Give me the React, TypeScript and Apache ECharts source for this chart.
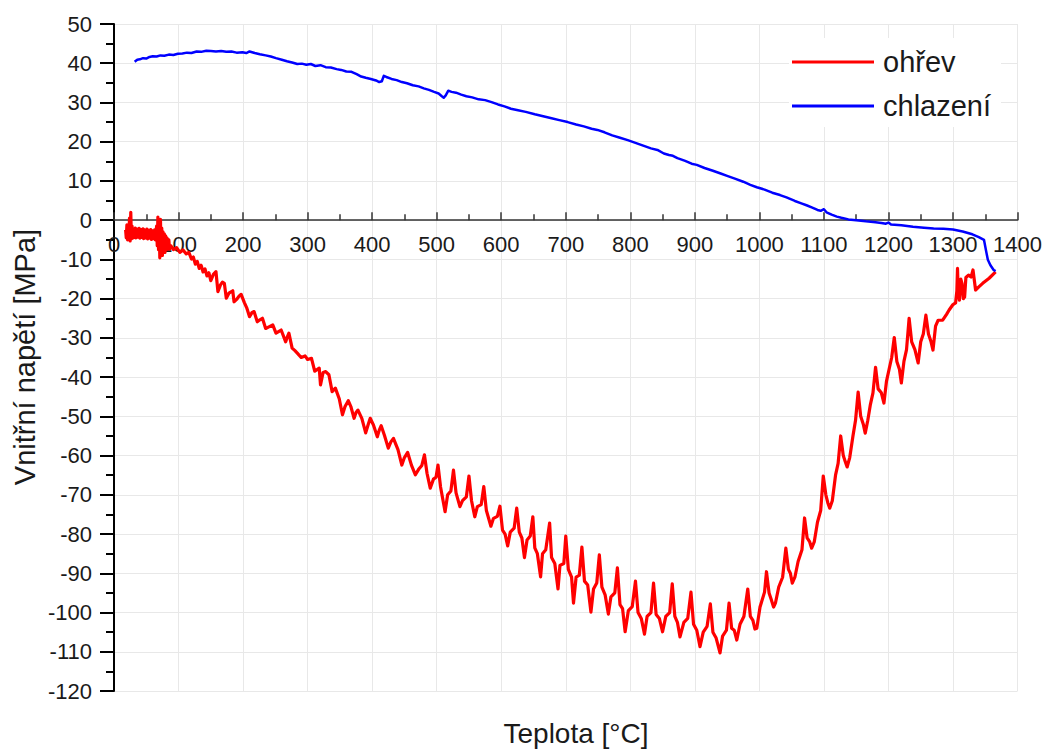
import React, { useEffect, useRef } from "react";
import * as echarts from "echarts";

// Axis ticks
const xTicks = { min: 0, max: 1400, step: 100 };
const yTicks = { min: -120, max: 50, step: 10 };

const seriesNames = ["ohřev", "chlazení"];
const xTitle = "Teplota [°C]";
const yTitle = "Vnitřní napětí [MPa]";

// Heating (ohřev) – noisy start cluster [T, sigma]
const heatingStart: number[][] = [
  [18, -2.5], [19, -4.5], [20, -1.2], [21, -5.0], [22, -2.0], [23, -4.6], [24, 0.5], [25, -5.3], [26, 2.0], [27, -4.8],
  [28, -1.5], [29, -4.6], [30, -2.2], [31, -4.4], [33, -2.0], [34, -4.5], [36, -2.3], [37, -4.3], [39, -2.1], [40, -4.6],
  [42, -2.4], [43, -4.4], [45, -2.2], [46, -4.7], [48, -2.5], [49, -4.5], [51, -2.3], [52, -4.8], [54, -2.6], [55, -4.6],
  [57, -2.4], [58, -4.9], [60, -2.7], [61, -4.7], [63, -2.5], [64, -5.0], [66, -1.5], [67, -6.5], [68, 0.8], [69, -7.5],
  [70, -1.0], [71, -9.6], [72, 0.2], [73, -8.5], [74, -2.0], [75, -9.0], [76, -3.0], [77, -7.8], [78, -3.5], [79, -8.2],
  [80, -4.0], [81, -7.6], [82, -4.5], [83, -7.4], [85, -5.0], [86, -7.4],
];

// Heating – descending branch
const heatingDescent: number[][] = [
  [88, -6.5], [92, -7.5], [97, -7.0], [102, -8.2], [107, -7.6], [112, -8.6], [116, -8.2], [120, -9.9], [123, -9.4],
  [126, -11.2], [129, -10.5], [132, -12.3], [135, -11.5], [138, -13.2], [141, -12.4], [144, -14.2], [147, -13.4],
  [150, -15.4], [154, -13.8], [158, -13.1], [161, -18.2], [165, -16.5], [168, -15.8], [171, -16.1], [174, -19.9],
  [178, -18.6], [184, -18.0], [186, -20.8], [190, -20.2], [194, -19.3], [197, -18.9], [202, -21.0], [206, -22.5],
  [210, -24.6], [214, -23.5], [217, -23.3], [222, -25.9], [226, -25.4], [230, -25.0], [235, -27.6], [240, -27.2],
  [246, -26.7], [251, -28.8], [255, -28.4], [259, -28.0], [266, -31.0], [268, -30.0], [271, -28.8], [276, -32.6],
  [280, -33.2], [284, -33.9], [290, -35.0], [296, -34.6], [300, -35.5], [306, -35.2], [311, -38.5], [318, -37.7],
  [320, -42.0], [324, -38.8], [328, -38.6], [333, -39.4], [338, -43.7], [343, -42.8], [349, -45.5], [354, -49.6],
  [358, -47.5], [363, -46.0], [367, -47.5], [372, -50.5], [375, -49.0], [378, -48.4], [384, -50.5], [390, -54.2],
  [394, -52.0], [397, -50.5], [402, -52.2], [408, -55.2], [411, -53.5], [414, -52.4], [419, -54.8], [425, -58.1],
  [429, -56.5], [433, -55.6], [440, -58.5], [446, -62.4], [450, -60.5], [455, -59.2], [461, -62.5], [467, -64.9],
  [472, -63.5], [477, -62.5], [481, -59.8], [485, -64.5], [490, -68.3], [495, -66.0], [499, -65.5], [502, -62.4],
  [506, -68.0], [513, -74.3], [517, -70.0], [522, -69.0], [526, -63.7], [530, -69.5], [536, -73.0], [540, -71.5],
  [546, -70.5], [550, -65.2], [554, -71.5], [559, -75.6], [563, -73.0], [569, -72.5], [573, -67.9], [577, -74.0],
  [584, -78.0], [588, -76.0], [594, -75.5],
];

// Heating – sawtooth trough
const heatingTrough: number[][] = [
  [598, -72.9], [602, -79.0], [606, -80.0], [610, -83.0], [614, -79.5], [620, -78.5],
  [624, -73.4], [628, -79.5], [632, -81.0], [636, -86.0], [640, -81.5], [645, -80.5],
  [649, -75.6], [652, -83.5], [656, -85.0], [661, -90.9], [664, -85.0], [669, -84.0],
  [675, -77.2], [678, -86.0], [683, -87.5], [688, -94.0], [691, -88.0], [697, -87.5],
  [700, -80.5], [704, -89.0], [709, -91.0], [712, -97.6], [716, -91.0], [721, -90.5],
  [725, -83.3], [729, -92.0], [734, -93.0], [739, -99.9], [743, -94.0], [748, -92.5],
  [752, -85.3], [756, -93.5], [761, -95.5], [766, -100.4], [770, -96.0], [776, -95.0],
  [780, -88.6], [784, -98.0], [788, -99.0], [792, -104.9], [797, -99.5], [803, -98.5],
  [808, -92.0], [812, -100.0], [817, -101.5], [822, -105.5], [826, -101.0], [832, -100.0],
  [836, -92.5], [840, -100.5], [845, -101.5], [850, -104.9], [855, -101.0], [861, -100.0],
  [865, -92.7], [869, -101.0], [873, -102.5], [877, -106.2], [883, -102.5], [889, -101.5],
  [894, -94.8], [898, -103.0], [903, -104.5], [908, -108.7], [913, -105.0], [919, -103.5],
  [924, -97.8], [928, -105.0], [933, -106.5], [939, -110.3], [943, -106.0], [949, -104.5],
  [953, -97.6], [957, -104.0], [961, -104.5], [965, -107.0], [970, -103.0], [976, -101.0],
  [982, -94.0], [986, -101.0], [990, -102.0], [993, -104.2], [996, -104.0], [1001, -98.6], [1008, -94.8],
];

// Heating – rising branch to max temperature
const heatingRise: number[][] = [
  [1011, -89.6], [1015, -95.0], [1018, -96.5], [1022, -98.6], [1025, -97.5], [1030, -93.5], [1036, -91.0],
  [1041, -83.6], [1045, -89.0], [1048, -90.0], [1051, -92.5], [1055, -91.0], [1060, -87.0], [1066, -84.0],
  [1070, -75.9], [1074, -81.0], [1078, -82.0], [1081, -83.6], [1085, -82.0], [1090, -77.0], [1095, -74.0],
  [1099, -65.2], [1103, -70.0], [1106, -72.0], [1109, -73.4], [1113, -71.5], [1118, -65.0], [1122, -62.0],
  [1126, -55.0], [1130, -60.0], [1133, -61.5], [1136, -62.9], [1140, -60.5], [1145, -55.0], [1149, -51.0],
  [1153, -43.8], [1157, -50.0], [1161, -52.0], [1164, -54.3], [1168, -51.0], [1172, -47.0], [1176, -44.0],
  [1180, -37.5], [1184, -43.0], [1189, -44.0], [1193, -46.6], [1197, -41.0], [1201, -38.0], [1205, -35.0],
  [1209, -29.9], [1213, -36.0], [1217, -38.0], [1220, -41.5], [1224, -36.0], [1228, -33.0],
  [1232, -25.0], [1236, -31.0], [1241, -33.0], [1246, -36.4], [1250, -31.0], [1254, -29.0],
  [1258, -24.2], [1262, -29.0], [1266, -31.0], [1269, -33.1], [1273, -27.0], [1277, -25.5], [1284, -25.5],
  [1290, -24.0], [1294, -22.9], [1300, -21.5], [1304, -21.1], [1306, -18.0], [1307, -12.3], [1308, -17.9],
  [1310, -20.4], [1312, -15.0], [1314, -16.1], [1316, -20.0], [1318, -19.6], [1320, -14.6], [1324, -14.0],
  [1328, -14.5], [1331, -12.7], [1335, -17.8], [1340, -17.0], [1346, -16.1], [1356, -14.8], [1366, -13.2],
];

// Cooling (chlazení) [T, sigma]
const cooling: number[][] = [
  [32, 40.4], [36, 40.9], [40, 41.0], [45, 41.3], [50, 41.2], [55, 41.6], [60, 41.8], [66, 41.7], [72, 42.0],
  [78, 41.9], [85, 42.2], [92, 42.1], [99, 42.4], [106, 42.5], [113, 42.7], [120, 42.6], [128, 43.0], [135, 42.9],
  [143, 43.2], [150, 43.1], [158, 43.0], [166, 43.1], [174, 42.9], [182, 43.0], [190, 42.7], [199, 42.8],
  [205, 42.6], [210, 43.0], [218, 42.6], [226, 42.3], [235, 42.0], [243, 41.7], [251, 41.3], [260, 40.9],
  [268, 40.5], [276, 40.2], [284, 39.8], [291, 39.9], [298, 39.6], [305, 39.8], [312, 39.3], [320, 39.5],
  [328, 39.0], [336, 38.9], [345, 38.5], [352, 38.3], [360, 37.9], [368, 37.8], [376, 37.2], [383, 36.6],
  [390, 36.3], [398, 36.0], [406, 35.6], [411, 35.2], [415, 35.4], [418, 36.8], [422, 36.5], [430, 36.0],
  [438, 35.7], [446, 35.2], [454, 34.9], [463, 34.4], [472, 34.1], [480, 33.6], [488, 33.2], [496, 32.7],
  [503, 32.3], [508, 31.6], [511, 31.2], [514, 31.8], [518, 33.0], [523, 32.7], [530, 32.5], [538, 32.0],
  [546, 31.6], [555, 31.3], [565, 30.8], [575, 30.6], [585, 30.1], [595, 29.5], [605, 29.0], [615, 28.4],
  [626, 28.0], [638, 27.6], [652, 27.0], [665, 26.5], [678, 26.0], [690, 25.5], [703, 25.0], [716, 24.4],
  [728, 23.9], [740, 23.3], [749, 23.0], [760, 22.4], [772, 21.6], [784, 21.0], [796, 20.4], [808, 19.7],
  [820, 19.0], [832, 18.3], [842, 17.9], [852, 17.0], [860, 16.6], [866, 16.4], [873, 15.8], [885, 15.1],
  [895, 14.4], [903, 14.1], [915, 13.3], [928, 12.6], [940, 11.9], [950, 11.3], [962, 10.6], [975, 9.8],
  [986, 9.0], [996, 8.4], [1008, 7.8], [1020, 7.0], [1032, 6.4], [1042, 5.8], [1055, 4.9], [1065, 4.3],
  [1073, 3.8], [1082, 3.2], [1090, 2.6], [1095, 2.4], [1100, 2.8], [1104, 2.0], [1112, 1.4], [1120, 0.9],
  [1127, 0.6], [1138, 0.2], [1150, 0.0], [1165, -0.3], [1180, -0.5], [1189, -0.7], [1196, -0.9], [1200, -0.6],
  [1204, -1.1], [1220, -1.3], [1238, -1.7], [1255, -1.9], [1270, -2.1], [1285, -2.2], [1300, -2.4], [1315, -2.9],
  [1330, -3.6], [1340, -4.3], [1348, -5.0], [1351, -7.6], [1354, -10.1], [1358, -11.5], [1363, -12.7], [1366, -13.0],
];

const FONT = "'Liberation Sans', Arial, sans-serif";
const TEXT = "#1a1a1a";
const GRID = { left: 114, right: 23, top: 24, bottom: 60 };
const CHART_H = 751;

export default function App() {
  const ref = useRef<HTMLDivElement>(null);
  useEffect(() => {
    if (!ref.current) return;
    const chart = echarts.init(ref.current, undefined, { renderer: "svg" });
    const heating = [...heatingStart, ...heatingDescent, ...heatingTrough, ...heatingRise];
    const plotH = CHART_H - GRID.top - GRID.bottom;
    // distance from bottom of grid up to the y = 0 line
    const zeroOffset = (plotH * (0 - yTicks.min)) / (yTicks.max - yTicks.min);
    chart.setOption({
      animation: false,
      backgroundColor: "#ffffff",
      grid: { ...GRID, containLabel: false },
      legend: {
        data: seriesNames,
        left: 789,
        top: 38,
        orient: "vertical",
        icon: "rect",
        itemWidth: 82,
        itemHeight: 3,
        itemGap: 14,
        padding: [9, 10, 6, 3],
        backgroundColor: "#ffffff",
        textStyle: { fontFamily: FONT, fontSize: 29, color: TEXT, lineHeight: 30, padding: [0, 0, 0, 4] },
      },
      xAxis: {
        type: "value",
        min: xTicks.min,
        max: xTicks.max,
        interval: xTicks.step,
        position: "bottom",
        offset: -zeroOffset,
        axisLine: { onZero: false, lineStyle: { color: "#333", width: 1.5 } },
        axisTick: { show: true, inside: true, length: 8, lineStyle: { color: "#333", width: 1.5 } },
        minorTick: { show: true, splitNumber: 2, length: 6, lineStyle: { color: "#333", width: 1.5 } },
        axisLabel: { fontFamily: FONT, fontSize: 22, color: TEXT, margin: 13, formatter: (v: number) => String(v) },
        splitLine: { show: true, lineStyle: { color: "#e8e8e8", width: 1 } },
      },
      yAxis: {
        type: "value",
        min: yTicks.min,
        max: yTicks.max,
        interval: yTicks.step,
        axisLine: { show: true, lineStyle: { color: "#000", width: 2 } },
        axisTick: { show: true, inside: false, length: 14, lineStyle: { color: "#000", width: 2 } },
        minorTick: { show: true, splitNumber: 2, length: 8, lineStyle: { color: "#000", width: 2 } },
        axisLabel: { fontFamily: FONT, fontSize: 22, color: TEXT, margin: 22, formatter: (v: number) => String(v) },
        splitLine: { show: true, lineStyle: { color: "#e8e8e8", width: 1 } },
      },
      graphic: [
        {
          type: "text",
          x: 576,
          y: 733,
          style: { text: xTitle, font: `28px ${FONT}`, fill: TEXT, align: "center", verticalAlign: "middle" },
        },
        {
          type: "text",
          x: 25,
          y: 357,
          rotation: Math.PI / 2,
          style: { text: yTitle, font: `29px ${FONT}`, fill: TEXT, align: "center", verticalAlign: "middle" },
        },
      ],
      series: [
        {
          name: seriesNames[0],
          type: "line",
          data: heating,
          symbol: "none",
          showSymbol: false,
          lineStyle: { color: "#ff0000", width: 3.2, join: "round" },
          itemStyle: { color: "#ff0000" },
        },
        {
          name: seriesNames[1],
          type: "line",
          data: cooling,
          symbol: "none",
          showSymbol: false,
          lineStyle: { color: "#0000ff", width: 2.5, join: "round" },
          itemStyle: { color: "#0000ff" },
        },
      ],
    });
    return () => chart.dispose();
  }, []);
  return <div ref={ref} style={{ position: "fixed", left: 0, top: 0, width: 1045, height: 751 }} />;
}
